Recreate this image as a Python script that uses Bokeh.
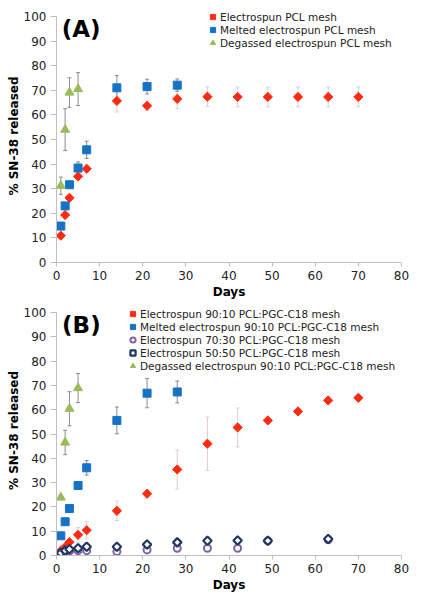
import math
from bokeh.plotting import figure
from bokeh.models import Legend, LegendItem, Whisker, ColumnDataSource, Label, TeeHead, FixedTicker, Range1d
from bokeh.layouts import column
from bokeh.embed import file_html
from bokeh.resources import INLINE

# ---------------- Panel A data ----------------
a_es_days = [1, 2, 3, 5, 7, 14, 21, 28, 35, 42, 49, 56, 63, 70]
a_es_vals = [10.9, 19.3, 26.3, 35.0, 38.1, 65.7, 63.7, 66.5, 67.4, 67.3, 67.3, 67.3, 67.3, 67.3]
a_es_err = [1.0, 1.2, 1.2, 1.5, 1.5, 4.5, 2.0, 4.0, 4.0, 4.0, 4.0, 4.0, 4.0, 4.0]

a_melt_days = [1, 2, 3, 5, 7, 14, 21, 28]
a_melt_vals = [14.8, 23.0, 31.6, 38.4, 45.8, 71.0, 71.5, 72.1]
a_melt_err = [1.0, 1.0, 1.0, 2.5, 3.5, 5.0, 3.0, 2.5]

a_deg_days = [1, 2, 3, 5]
a_deg_vals = [31.2, 54.0, 69.1, 70.5]
a_deg_err = [3.5, 8.5, 6.0, 6.7]

a_labels = ["Electrospun PCL mesh", "Melted electrospun PCL mesh", "Degassed electrospun PCL mesh"]

# ---------------- Panel B data ----------------
b_es_days = [1, 2, 3, 5, 7, 14, 21, 28, 35, 42, 49, 56, 63, 70]
b_es_vals = [2.0, 3.5, 5.5, 8.5, 10.4, 18.4, 25.4, 35.4, 46.0, 52.7, 55.6, 59.3, 63.8, 64.9]
b_es_err = [0.5, 0.8, 1.0, 3.0, 3.5, 4.0, 1.5, 8.0, 11.0, 8.0, 1.0, 1.0, 1.0, 1.0]

b_melt_days = [1, 2, 3, 5, 7, 14, 21, 28]
b_melt_vals = [8.1, 13.9, 19.3, 28.8, 36.1, 55.6, 66.8, 67.3]
b_melt_err = [0.8, 1.0, 1.5, 1.5, 3.0, 5.5, 6.0, 4.5]

b_7030_days = [1, 2, 3, 5, 7, 14, 21, 28, 35, 42, 49, 63]
b_7030_vals = [1.0, 1.5, 1.8, 2.0, 2.0, 1.6, 2.3, 3.0, 3.0, 3.0, 6.0, 6.5]

b_5050_days = [1, 2, 3, 5, 7, 14, 21, 28, 35, 42, 49, 63]
b_5050_vals = [1.0, 2.0, 2.6, 3.0, 3.6, 3.6, 4.5, 5.4, 6.1, 6.2, 6.1, 6.8]

b_deg_days = [1, 2, 3, 5]
b_deg_vals = [23.9, 46.5, 60.4, 68.9]
b_deg_err = [1.0, 5.0, 7.0, 6.0]

b_labels = ["Electrospun 90:10 PCL:PGC-C18 mesh",
            "Melted electrospun 90:10 PCL:PGC-C18 mesh",
            "Electrospun 70:30 PCL:PGC-C18 mesh",
            "Electrospun 50:50 PCL:PGC-C18 mesh",
            "Degassed electrospun 90:10 PCL:PGC-C18 mesh"]

x_ticks = [0, 10, 20, 30, 40, 50, 60, 70, 80]
y_ticks = [0, 10, 20, 30, 40, 50, 60, 70, 80, 90, 100]

RED = "#FF2A12"
BLUE = "#1672C4"
GREEN = "#9BBB59"
PURPLE = "#8064A2"
NAVY = "#1F3864"
FONT = "DejaVu Sans"
AXIS_GRAY = "#BFBFBF"
ROT = math.pi / 4


def make_fig(frame_h, plot_h, top_border):
    p = figure(frame_width=345, frame_height=frame_h, output_backend="svg", toolbar_location=None,
               x_range=Range1d(0, 80), y_range=Range1d(0, 100.0 * frame_h / plot_h),
               min_border_left=56, min_border_right=14, min_border_top=top_border, min_border_bottom=4)
    p.outline_line_color = None
    p.xgrid.grid_line_color = None
    p.ygrid.grid_line_color = None
    p.xaxis.ticker = FixedTicker(ticks=x_ticks)
    p.yaxis.ticker = FixedTicker(ticks=y_ticks)
    p.yaxis.bounds = (0, 100)
    for ax in (p.xaxis[0], p.yaxis[0]):
        ax.axis_line_color = AXIS_GRAY
        ax.major_tick_line_color = AXIS_GRAY
        ax.minor_tick_line_color = None
        ax.major_tick_in = 0
        ax.major_label_text_font = FONT
        ax.major_label_text_font_size = "12px"
        ax.major_label_text_color = "#222222"
        ax.axis_label_text_font = FONT
        ax.axis_label_text_font_size = "12px"
        ax.axis_label_text_font_style = "bold"
        ax.axis_label_text_color = "#000000"
    p.xaxis.major_tick_out = 4
    p.yaxis.major_tick_out = 6
    p.xaxis.major_label_standoff = 4
    p.yaxis.major_label_standoff = 4
    p.xaxis.axis_label = "Days"
    p.yaxis.axis_label = "% SN-38 released"
    p.xaxis.axis_label_standoff = 2
    p.yaxis.axis_label_standoff = 0
    return p


def err(p, days, vals, errs, color):
    lower = [v - e for v, e in zip(vals, errs)]
    upper = [v + e for v, e in zip(vals, errs)]
    src = ColumnDataSource(dict(x=days, lower=lower, upper=upper))
    w = Whisker(source=src, base="x", lower="lower", upper="upper", line_color=color, line_width=1,
                upper_head=TeeHead(size=4, line_color=color), lower_head=TeeHead(size=4, line_color=color))
    p.add_layout(w)


def legend(p, items, x, y):
    lg = Legend(items=items, location=(x, y), label_text_font=FONT, label_text_font_size="10.5px",
                label_text_color="#222222", glyph_width=13, glyph_height=13, label_height=13,
                label_standoff=1, spacing=0, padding=0, margin=0,
                background_fill_alpha=0, border_line_alpha=0)
    p.add_layout(lg, "center")


# ---------------- Panel A ----------------
pa = make_fig(253, 246, 9)
err(pa, a_es_days, a_es_vals, a_es_err, "#D9D0D0")
err(pa, a_melt_days, a_melt_vals, a_melt_err, "#8C8C8C")
err(pa, a_deg_days, a_deg_vals, a_deg_err, "#8C8C8C")
ra1 = pa.scatter(a_es_days, a_es_vals, marker="square", angle=ROT, size=6.5, fill_color=RED, line_color=RED)
ra2 = pa.scatter(a_melt_days, a_melt_vals, marker="square", size=8, fill_color=BLUE, line_color=BLUE)
ra3 = pa.scatter(a_deg_days, a_deg_vals, marker="triangle", size=9, fill_color=GREEN, line_color=GREEN)
legend(pa, [LegendItem(label=a_labels[0], renderers=[ra1]),
            LegendItem(label=a_labels[1], renderers=[ra2]),
            LegendItem(label=a_labels[2], renderers=[ra3])], 150, 213)
pa.add_layout(Label(x=1.2, y=95, text="(A)", text_font=FONT, text_font_size="23px",
                    text_font_style="bold", text_baseline="middle", text_color="#000000"))

# ---------------- Panel B ----------------
pb = make_fig(250, 243, 4)
err(pb, b_es_days, b_es_vals, b_es_err, "#E0CFCF")
err(pb, b_melt_days, b_melt_vals, b_melt_err, "#8C8C8C")
err(pb, b_deg_days, b_deg_vals, b_deg_err, "#8C8C8C")
rb1 = pb.scatter(b_es_days, b_es_vals, marker="square", angle=ROT, size=6.5, fill_color=RED, line_color=RED)
rb2 = pb.scatter(b_melt_days, b_melt_vals, marker="square", size=8, fill_color=BLUE, line_color=BLUE)
rb3 = pb.scatter(b_7030_days, b_7030_vals, marker="circle", size=7, fill_color="white",
                 line_color=PURPLE, line_width=2)
rb4 = pb.scatter(b_5050_days, b_5050_vals, marker="square", angle=ROT, size=6, fill_color="white",
                 line_color=NAVY, line_width=2.2)
rb5 = pb.scatter(b_deg_days, b_deg_vals, marker="triangle", size=9, fill_color=GREEN, line_color=GREEN)
legend(pb, [LegendItem(label=b_labels[0], renderers=[rb1]),
            LegendItem(label=b_labels[1], renderers=[rb2]),
            LegendItem(label=b_labels[2], renderers=[rb3]),
            LegendItem(label=b_labels[3], renderers=[rb4]),
            LegendItem(label=b_labels[4], renderers=[rb5])], 70, 183)
pb.add_layout(Label(x=1.3, y=95, text="(B)", text_font=FONT, text_font_size="23px",
                    text_font_style="bold", text_baseline="middle", text_color="#000000"))

layout = column(pa, pb, spacing=0)
open("out.html", "w").write(file_html(layout, INLINE))
